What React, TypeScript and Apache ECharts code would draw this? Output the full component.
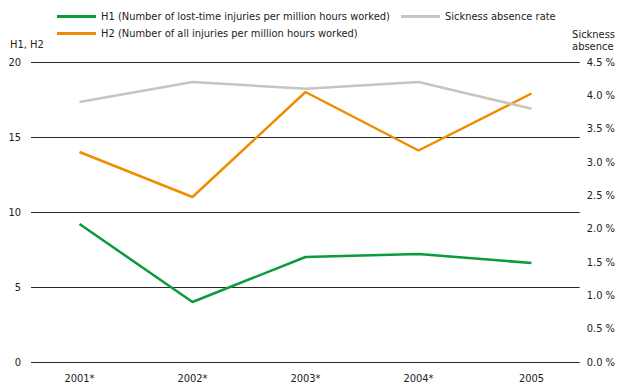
import React, { useEffect, useRef } from "react";
import * as echarts from "echarts";

const years = ["2001*", "2002*", "2003*", "2004*", "2005"];
const h1 = [9.2, 4.0, 7.0, 7.2, 6.6];
const h2 = [14.0, 11.0, 18.0, 14.1, 17.9];
const sickness = [3.9, 4.2, 4.1, 4.2, 3.8];

const leftTicks = { min: 0, max: 20, interval: 5 };
const rightTicks = { min: 0, max: 4.5, interval: 0.5 };

const H1_NAME = "H1 (Number of lost-time injuries per million hours worked)";
const H2_NAME = "H2 (Number of all injuries per million hours worked)";
const SICK_NAME = "Sickness absence rate";

const FONT = "'DejaVu Sans Condensed', 'Liberation Sans', sans-serif";
const FS = 11;
const TEXT = "#222";
const GREEN = "#0b9a3c";
const ORANGE = "#f08c00";
const GREY = "#c9c5bd";

export default function App() {
  const ref = useRef<HTMLDivElement>(null);

  useEffect(() => {
    if (!ref.current) return;
    const chart = echarts.init(ref.current, null, { renderer: "svg" });

    const legendBase = {
      orient: "horizontal" as const,
      icon: "rect",
      itemWidth: 39,
      itemHeight: 3,
      padding: 0,
      selectedMode: false,
      textStyle: { fontFamily: FONT, fontSize: FS, color: TEXT },
    };

    const labelStyle = { color: TEXT, fontFamily: FONT, fontSize: FS };

    chart.setOption({
      animation: false,
      textStyle: { fontFamily: FONT },
      legend: [
        { ...legendBase, data: [H1_NAME], left: 57, top: 11 },
        { ...legendBase, data: [SICK_NAME], left: 401, top: 11 },
        { ...legendBase, data: [H2_NAME], left: 57, top: 28 },
      ],
      grid: [
        // data grid: category bands
        { left: 23, right: 30, top: 62, bottom: 25 },
        // frame grid: horizontal rules and value labels
        { left: 31, right: 36, top: 62, bottom: 25 },
      ],
      xAxis: [
        {
          type: "category",
          gridIndex: 0,
          data: years,
          boundaryGap: true,
          axisLine: { show: false },
          axisTick: { show: false },
          axisLabel: { ...labelStyle, margin: 11 },
        },
        {
          type: "category",
          gridIndex: 1,
          data: years,
          show: false,
        },
      ],
      yAxis: [
        {
          type: "value",
          gridIndex: 0,
          ...leftTicks,
          show: false,
        },
        {
          type: "value",
          gridIndex: 0,
          position: "right",
          ...rightTicks,
          show: false,
        },
        {
          type: "value",
          gridIndex: 1,
          ...leftTicks,
          axisLine: { show: false },
          axisTick: { show: false },
          axisLabel: { ...labelStyle, margin: 10 },
          splitLine: { show: true, lineStyle: { color: "#2a2a2a", width: 1 } },
        },
        {
          type: "value",
          gridIndex: 1,
          position: "right",
          ...rightTicks,
          axisLine: { show: false },
          axisTick: { show: false },
          splitLine: { show: false },
          axisLabel: {
            ...labelStyle,
            margin: 7,
            formatter: (v: number) => v.toFixed(1) + " %",
          },
        },
      ],
      graphic: [
        {
          type: "text",
          left: 10,
          top: 39,
          style: { text: "H1, H2", font: `${FS}px ${FONT}`, fill: TEXT },
        },
        {
          type: "text",
          right: 3,
          top: 28,
          style: {
            text: "Sickness\nabsence",
            font: `${FS}px ${FONT}`,
            fill: TEXT,
            align: "right",
            lineHeight: 12,
          },
        },
      ],
      series: [
        {
          name: H1_NAME,
          type: "line",
          xAxisIndex: 0,
          yAxisIndex: 0,
          data: h1,
          showSymbol: false,
          lineStyle: { color: GREEN, width: 2.5 },
          itemStyle: { color: GREEN },
        },
        {
          name: H2_NAME,
          type: "line",
          xAxisIndex: 0,
          yAxisIndex: 0,
          data: h2,
          showSymbol: false,
          lineStyle: { color: ORANGE, width: 2.5 },
          itemStyle: { color: ORANGE },
        },
        {
          name: SICK_NAME,
          type: "line",
          xAxisIndex: 0,
          yAxisIndex: 1,
          data: sickness,
          showSymbol: false,
          lineStyle: { color: GREY, width: 2.5 },
          itemStyle: { color: GREY },
        },
      ],
    });

    return () => chart.dispose();
  }, []);

  return <div ref={ref} style={{ width: 618, height: 387, position: "absolute", left: 0, top: 0 }} />;
}
